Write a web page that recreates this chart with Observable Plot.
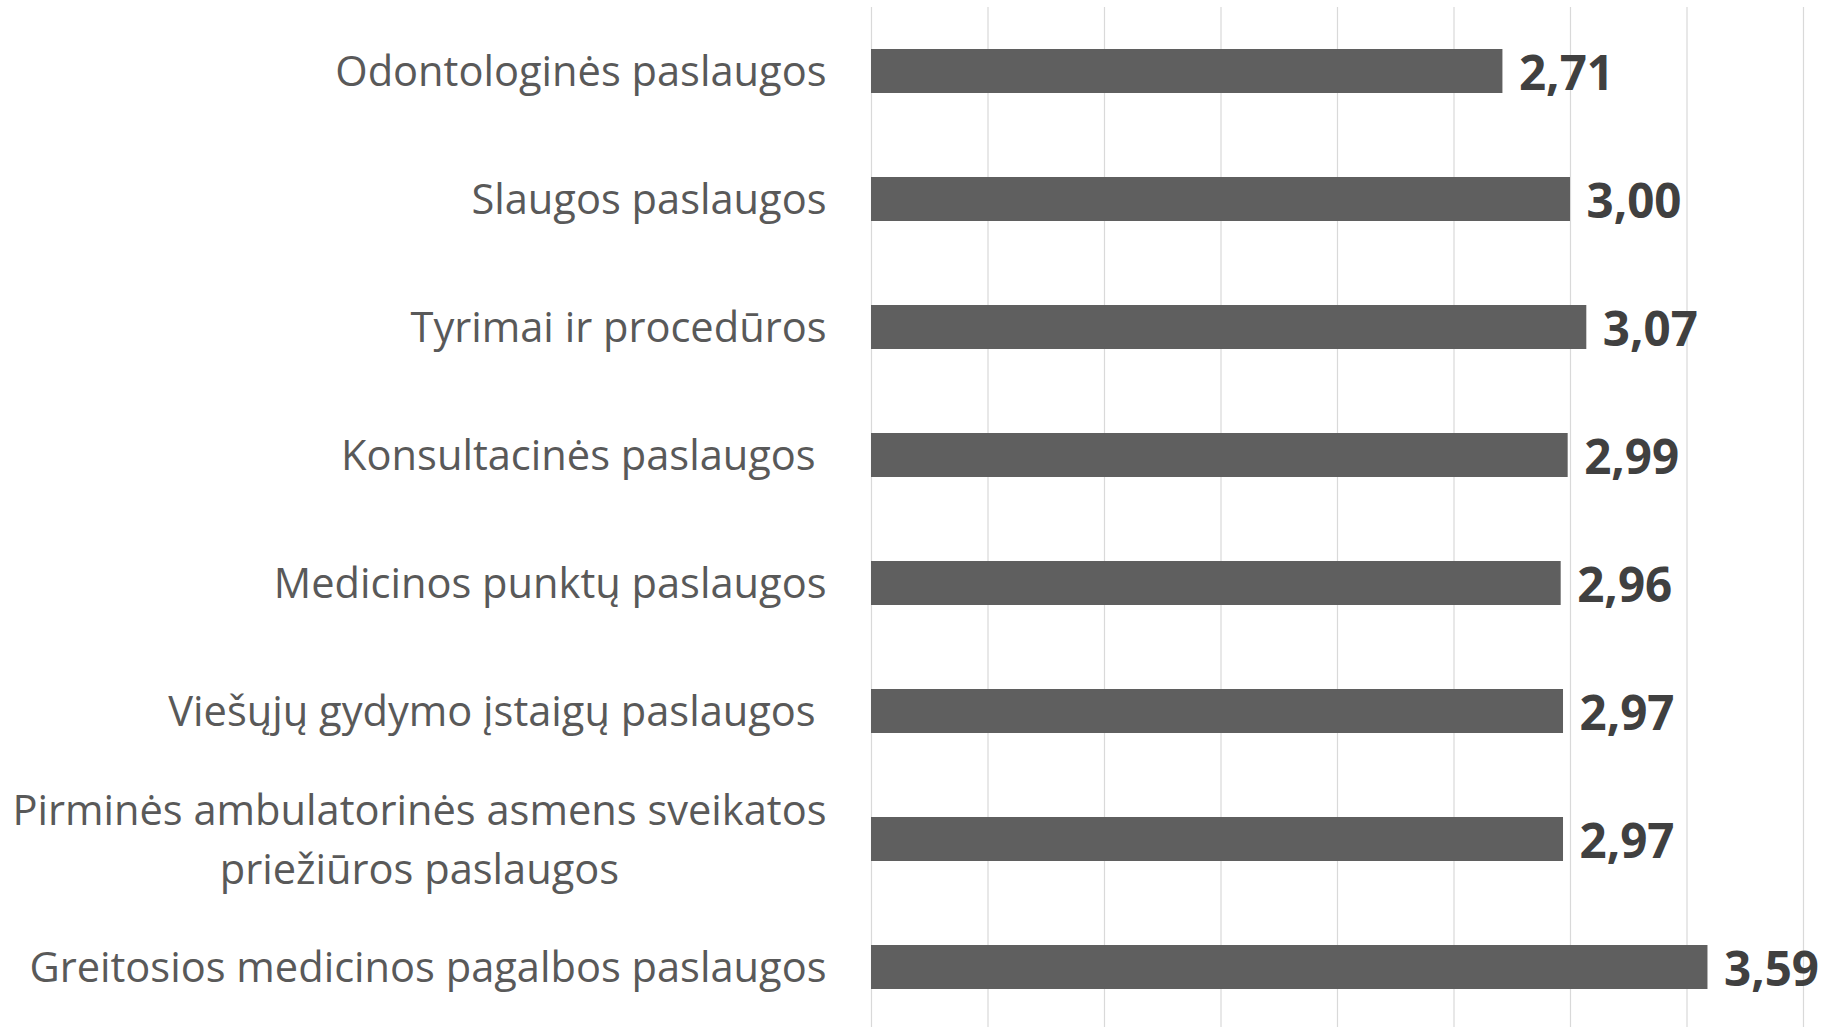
<!DOCTYPE html>
<html>
<head>
<meta charset="utf-8">
<script src="https://cdn.jsdelivr.net/npm/d3@7"></script>
<script src="https://cdn.jsdelivr.net/npm/@observablehq/plot@0.6"></script>
<style>
  html, body { margin: 0; padding: 0; background: #fff; overflow: hidden; }
</style>
</head>
<body>
<div id="chart"></div>
<script>
const categories = [
  "Odontologinės paslaugos",
  "Slaugos paslaugos",
  "Tyrimai ir procedūros",
  "Konsultacinės paslaugos\u00a0",
  "Medicinos punktų paslaugos",
  "Viešųjų gydymo įstaigų paslaugos\u00a0",
  "Pirminės ambulatorinės asmens sveikatos\npriežiūros paslaugos",
  "Greitosios medicinos pagalbos paslaugos"
];
const values = [2.71, 3.00, 3.07, 2.99, 2.96, 2.97, 2.97, 3.59];
const xDomain = [0, 4];

const data = categories.map((c, i) => ({label: c, value: values[i]}));
const fmt = v => v.toFixed(2).replace(".", ",");

const chart = Plot.plot({
  width: 1824,
  height: 1031,
  marginLeft: 871,
  marginRight: 21,
  marginTop: 7,
  marginBottom: 0,
  style: {fontFamily: "'Open Sans', sans-serif", background: "#fff"},
  x: {domain: xDomain, axis: null},
  y: {domain: categories, axis: null, paddingInner: 0.656, paddingOuter: 0.328},
  marks: [
    Plot.gridX({ticks: 8, stroke: "#d9d9d9", strokeOpacity: 1, strokeWidth: 1.2}),
    Plot.barX(data, {x: "value", y: "label", fill: "#5f5f5f"}),
    Plot.text(data, {
      y: "label", text: "label", frameAnchor: "left", textAnchor: "end",
      dx: -45, dy: -4, fontSize: 41.6, lineHeight: 1.42, fill: "#595959"
    }),
    Plot.text(data, {
      x: "value", y: "label", text: d => fmt(d.value), textAnchor: "start",
      dx: 16, dy: 3, fontSize: 47.5, fontWeight: "bold", fill: "#404040"
    })
  ]
});

document.getElementById("chart").appendChild(chart);

// Center the lines of the multi-line label within its block (right edge kept)
chart.querySelectorAll("text").forEach(t => {
  if (t.querySelectorAll("tspan").length > 1) {
    const before = t.getBBox();
    const right = before.x + before.width;
    t.setAttribute("text-anchor", "middle");
    const after = t.getBBox();
    const shift = right - (after.x + after.width);
    const g = document.createElementNS("http://www.w3.org/2000/svg", "g");
    g.setAttribute("transform", `translate(${shift},0)`);
    t.parentNode.insertBefore(g, t);
    g.appendChild(t);
  }
});
</script>
</body>
</html>
